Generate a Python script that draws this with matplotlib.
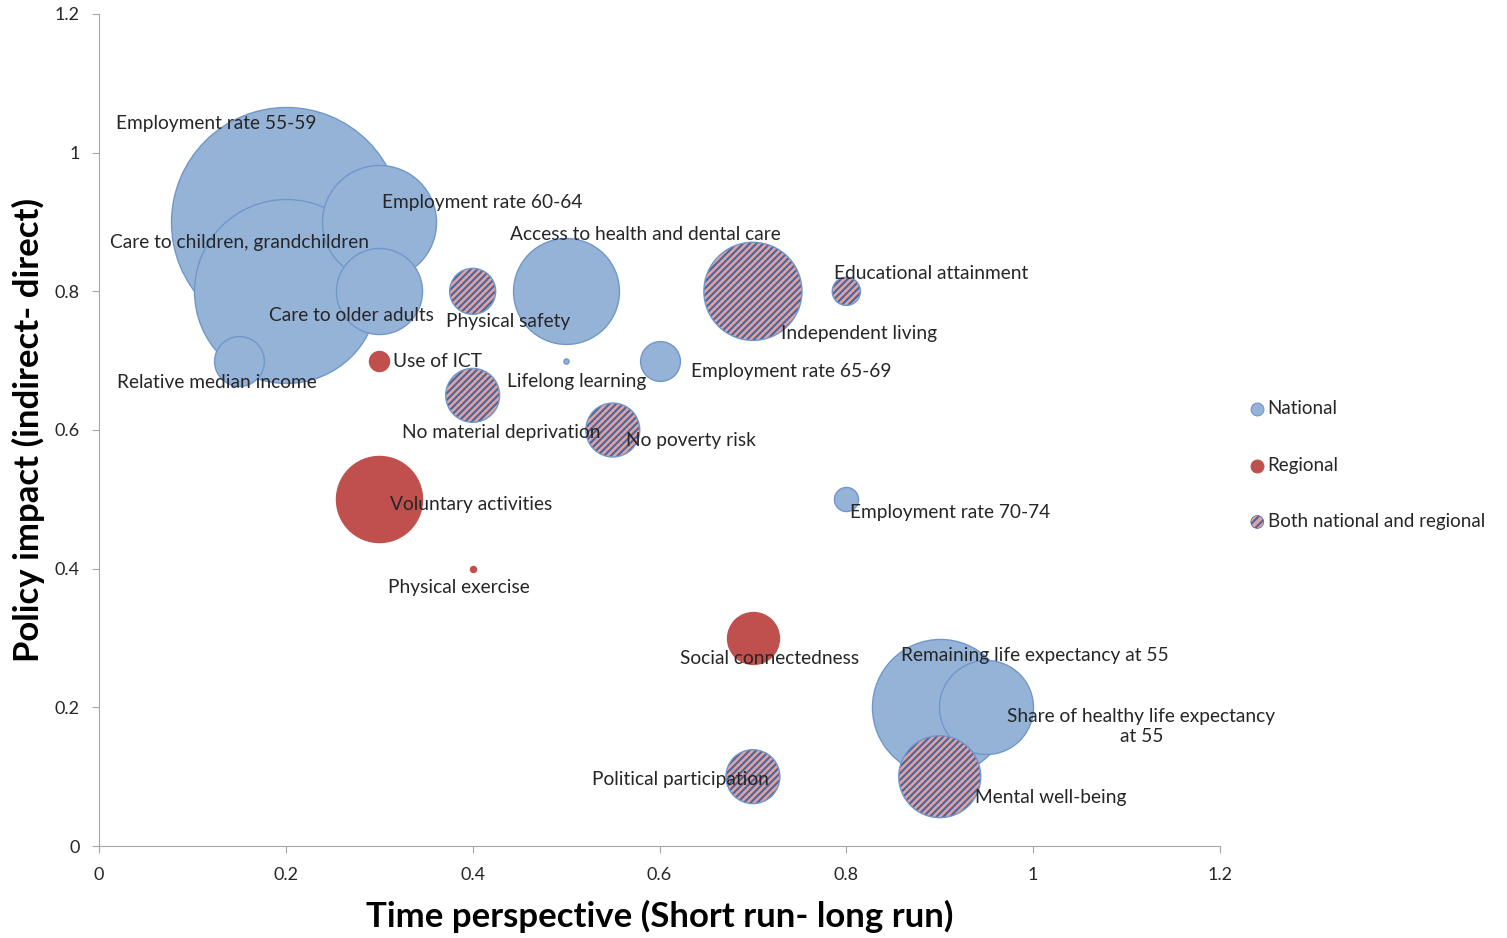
import matplotlib
matplotlib.use("Agg")
import matplotlib.pyplot as plt

plt.rcParams['font.family'] = ['Lato', 'DejaVu Sans']
plt.rcParams['hatch.linewidth'] = 1.5

# ---------------- data ----------------
labels = [
    "Employment rate 55-59", "Employment rate 60-64", "Care to children, grandchildren",
    "Care to older adults", "Relative median income", "Access to health and dental care",
    "Lifelong learning", "Employment rate 65-69", "Employment rate 70-74",
    "Remaining life expectancy at 55", "Share of healthy life expectancy\nat 55",
    "Use of ICT", "Voluntary activities", "Physical exercise", "Social connectedness",
    "Physical safety", "Independent living", "Educational attainment",
    "No material deprivation", "No poverty risk", "Political participation", "Mental well-being",
]
time_perspective = [0.2, 0.3, 0.2, 0.3, 0.15, 0.5, 0.5, 0.6, 0.8, 0.9, 0.95,
                    0.3, 0.3, 0.4, 0.7,
                    0.4, 0.7, 0.8, 0.4, 0.55, 0.7, 0.9]
policy_impact = [0.9, 0.9, 0.8, 0.8, 0.7, 0.8, 0.7, 0.7, 0.5, 0.2, 0.2,
                 0.7, 0.5, 0.4, 0.3,
                 0.8, 0.8, 0.8, 0.65, 0.6, 0.1, 0.1]
bubble_size = [100, 24.6, 64, 14, 4.7, 21.2, 0.05, 3.0, 1.1, 35, 16.7,
               0.76, 14, 0.07, 5.1,
               4.0, 18.2, 1.5, 5.5, 5.5, 5.5, 12.7]
level = (["National"] * 11) + (["Regional"] * 4) + (["Both national and regional"] * 7)
categories = ["National", "Regional", "Both national and regional"]

# ---------------- layout (label offsets in pixels) ----------------
label_offsets = [(-70, -98), (103, -19), (-46, -49), (-28, 24), (-22, 22), (79, -57),
                 (11, 21), (132, 11), (104, 13), (95, -52), (155, 19),
                 (58, 1), (92, 5), (-14, 19), (17, 21),
                 (35, 30), (106, 42), (85, -18), (29, 37), (78, 11), (-72, 3), (111, 21)]

SIZE_SCALE = 274.2
BLUE = '#95B3D7'
BLUE_EDGE = '#7097CA'
RED = '#C0504D'
PINK = '#E3A09E'
HATCH_BLUE = '#44679F'

fig = plt.figure(figsize=(15.07, 9.38), dpi=100)
ax = fig.add_axes([99 / 1507, 92 / 938, 1121 / 1507, 832 / 938])

order = sorted(range(len(labels)), key=lambda i: -bubble_size[i])
for z, i in enumerate(order):
    s = bubble_size[i] * SIZE_SCALE
    zo = 2 + z * 0.01
    if level[i] == "National":
        ax.scatter(time_perspective[i], policy_impact[i], s=s, c=BLUE, edgecolors=BLUE_EDGE,
                   linewidths=1.0, zorder=zo, clip_on=False)
    elif level[i] == "Regional":
        ax.scatter(time_perspective[i], policy_impact[i], s=s, c=RED, edgecolors=RED,
                   linewidths=1.0, zorder=zo, clip_on=False)
    else:
        ax.scatter(time_perspective[i], policy_impact[i], s=s, facecolors=PINK,
                   edgecolors=HATCH_BLUE, hatch='/////', linewidths=0.0,
                   zorder=zo, clip_on=False)
        ax.scatter(time_perspective[i], policy_impact[i], s=s, facecolors='none',
                   edgecolors=BLUE_EDGE, linewidths=1.0, zorder=zo + 0.005, clip_on=False)

for i, lab in enumerate(labels):
    dx, dy = label_offsets[i]
    ax.annotate(lab, (time_perspective[i], policy_impact[i]),
                xytext=(dx * 0.72, -dy * 0.72), textcoords='offset points',
                ha='center', va='center', fontsize=13.8, color='#262626',
                multialignment='center', zorder=10)

ax.set_xlim(0, 1.2)
ax.set_ylim(0, 1.2)
ticks = [0, 0.2, 0.4, 0.6, 0.8, 1, 1.2]
tick_labels = ["0", "0.2", "0.4", "0.6", "0.8", "1", "1.2"]
ax.set_xticks(ticks)
ax.set_xticklabels(tick_labels)
ax.set_yticks(ticks)
ax.set_yticklabels(tick_labels)
for sp in ['top', 'right']:
    ax.spines[sp].set_visible(False)
for sp in ['left', 'bottom']:
    ax.spines[sp].set_color('#A6A6A6')
ax.tick_params(axis='both', direction='out', length=5, color='#A6A6A6',
               labelsize=13, labelcolor='#262626')
ax.tick_params(axis='x', pad=10)
ax.tick_params(axis='y', pad=9)

ax.set_xlabel("Time perspective (Short run- long run)", fontsize=25, fontweight='bold',
              labelpad=12)
ax.set_ylabel("Policy impact (indirect- direct)", fontsize=25, fontweight='bold',
              labelpad=7)

# legend
h_nat = ax.scatter([], [], s=85, c=BLUE, edgecolors=BLUE_EDGE, linewidths=0.8)
h_reg = ax.scatter([], [], s=85, c=RED, edgecolors=RED, linewidths=0.8)
h_both = ax.scatter([], [], s=85, facecolors=PINK, edgecolors=HATCH_BLUE, hatch='////',
                    linewidths=0.5)
leg = fig.legend([h_nat, h_reg, h_both], categories, loc='center left',
                 bbox_to_anchor=(1231 / 1507, 1 - 465 / 938), frameon=False,
                 fontsize=13.5, labelspacing=2.1, handletextpad=0.05, handlelength=1.0)
for t in leg.get_texts():
    t.set_color('#262626')

fig.savefig("out.png", dpi=100)
